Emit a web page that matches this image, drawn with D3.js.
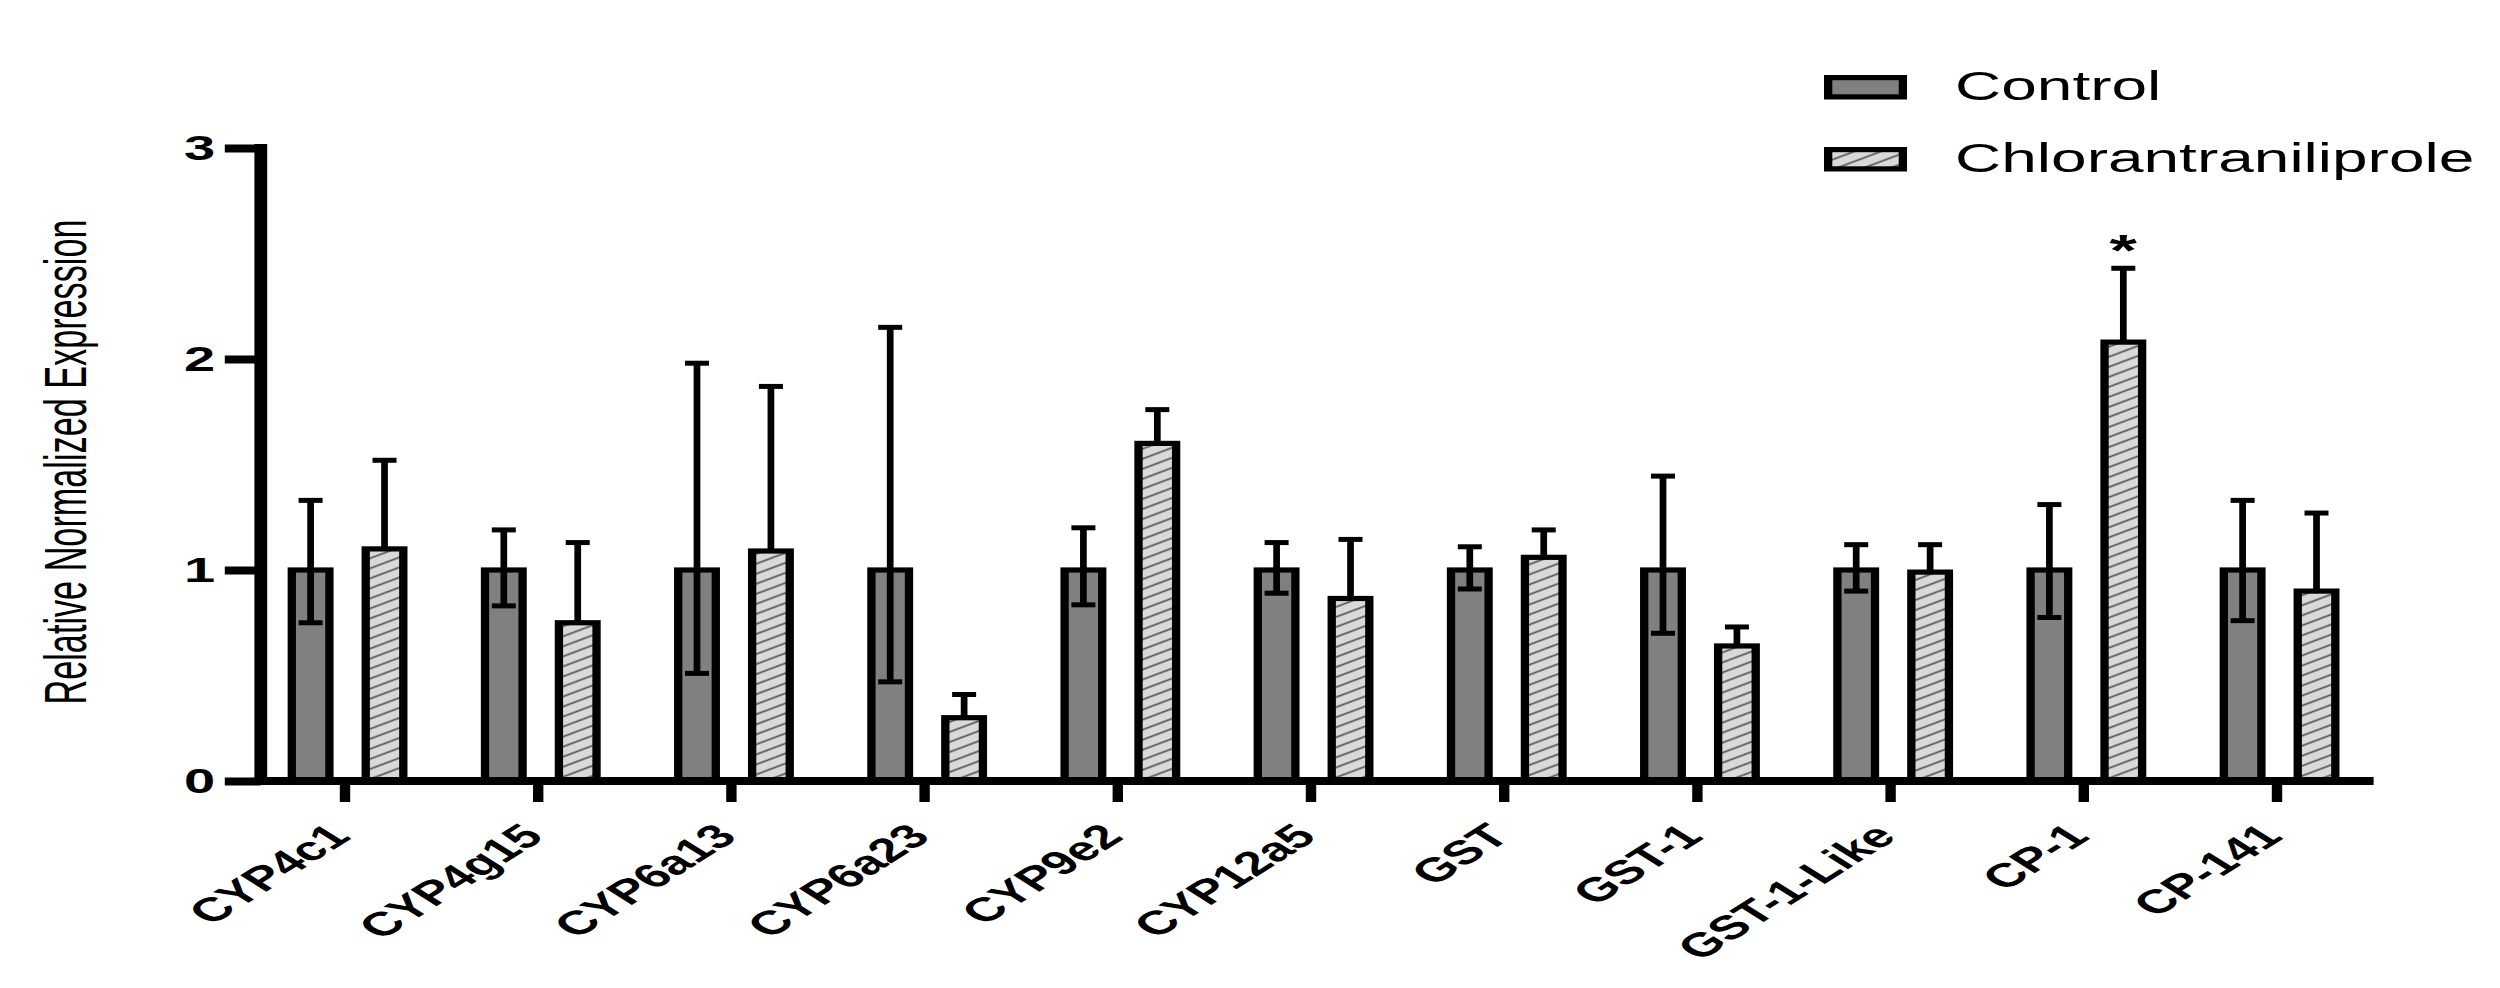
<!DOCTYPE html>
<html><head><meta charset="utf-8">
<script src="https://cdn.jsdelivr.net/npm/d3@7"></script>
<style>body{margin:0;background:#fff}svg{display:block}</style>
</head><body>
<svg id="c" width="2500" height="988"></svg>
<script>
const categories = ["CYP4c1","CYP4g15","CYP6a13","CYP6a23","CYP9e2","CYP12a5","GST","GST-1","GST-1-Like","CP-1","CP-141"];
const controlMean  = [1,1,1,1,1,1,1,1,1,1,1];
const controlUpper = [1.33,1.19,1.98,2.15,1.20,1.13,1.11,1.445,1.12,1.31,1.33];
const controlLower = [0.75,0.83,0.51,0.47,0.835,0.89,0.91,0.70,0.90,0.775,0.76];
const treatedMean  = [1.10,0.75,1.09,0.30,1.60,0.865,1.06,0.64,0.99,2.08,0.90];
const treatedUpper = [1.52,1.13,1.87,0.41,1.76,1.145,1.19,0.73,1.12,2.43,1.27];
const significance = ["","","","","","","","","","*",""];
const yTicks = [0,1,2,3];
const seriesNames = ["Control","Chlorantraniliprole"];
const yTitle = "Relative Normalized Expression";

const S = 1.6; // horizontal stretch of the original figure
const svg = d3.select("#c");
const defs = svg.append("defs");
const pat = defs.append("pattern").attr("id","hatch").attr("patternUnits","userSpaceOnUse")
  .attr("width",30).attr("height",8.6).attr("patternTransform","rotate(-31)");
pat.append("rect").attr("width",30).attr("height",8.6).attr("fill","#d9d9d9");
pat.append("line").attr("x1",0).attr("x2",30).attr("y1",4.3).attr("y2",4.3)
  .attr("stroke","#555").attr("stroke-width",1.4);

const g = svg.append("g").attr("transform",`scale(${S},1)`);
const x = d3.scaleBand().domain(categories).range([155.25,1483.5]);
const y = d3.scaleLinear().domain([0,3]).range([781,148]);
const yAxisX = 163;
const cx = c => x(c) + x.bandwidth()/2;
const offC = -21.5, offT = 24.7, barW = 23.5, capW = 15;
const font = "'Liberation Sans', Arial, sans-serif";

// bars
const data = categories.map((c,i)=>({c,cm:controlMean[i],ch:controlUpper[i],cl:controlLower[i],tm:treatedMean[i],th:treatedUpper[i],sig:significance[i]}));
const grp = g.append("g").selectAll("g").data(data).join("g");
grp.append("rect").attr("x",d=>cx(d.c)+offC-barW/2).attr("y",d=>y(d.cm))
  .attr("width",barW).attr("height",d=>y(0)-y(d.cm))
  .attr("fill","#808080").attr("stroke","#000").attr("stroke-width",5.2);
grp.append("rect").attr("x",d=>cx(d.c)+offT-barW/2).attr("y",d=>y(d.tm))
  .attr("width",barW).attr("height",d=>y(0)-y(d.tm))
  .attr("fill","url(#hatch)").attr("stroke","#000").attr("stroke-width",5.2);
// error bars
grp.append("line").attr("x1",d=>cx(d.c)+offC).attr("x2",d=>cx(d.c)+offC)
  .attr("y1",d=>y(d.cl)).attr("y2",d=>y(d.ch)).attr("stroke","#000").attr("stroke-width",4.2);
grp.append("line").attr("x1",d=>cx(d.c)+offC-capW/2).attr("x2",d=>cx(d.c)+offC+capW/2)
  .attr("y1",d=>y(d.ch)).attr("y2",d=>y(d.ch)).attr("stroke","#000").attr("stroke-width",5);
grp.append("line").attr("x1",d=>cx(d.c)+offC-capW/2).attr("x2",d=>cx(d.c)+offC+capW/2)
  .attr("y1",d=>y(d.cl)).attr("y2",d=>y(d.cl)).attr("stroke","#000").attr("stroke-width",5);
grp.append("line").attr("x1",d=>cx(d.c)+offT).attr("x2",d=>cx(d.c)+offT)
  .attr("y1",d=>y(d.tm)).attr("y2",d=>y(d.th)).attr("stroke","#000").attr("stroke-width",4.2);
grp.append("line").attr("x1",d=>cx(d.c)+offT-capW/2).attr("x2",d=>cx(d.c)+offT+capW/2)
  .attr("y1",d=>y(d.th)).attr("y2",d=>y(d.th)).attr("stroke","#000").attr("stroke-width",5);
grp.filter(d=>d.sig).append("text").attr("x",d=>cx(d.c)+offT).attr("y",d=>y(d.th)-2)
  .attr("text-anchor","middle").attr("font-family",font).attr("font-weight",700)
  .attr("font-size",44).text(d=>d.sig);

// y axis
const ya = g.append("g").attr("transform",`translate(${yAxisX},0)`)
  .call(d3.axisLeft(y).tickValues(yTicks).tickSize(22.5).tickSizeOuter(0).tickPadding(6).tickFormat(d3.format("d")));
ya.select(".domain").remove();
ya.selectAll(".tick line").attr("stroke","#000").attr("stroke-width",8);
ya.selectAll(".tick text").attr("font-family",font).attr("font-weight",700).attr("font-size",35).attr("fill","#000");
g.append("line").attr("x1",yAxisX).attr("x2",yAxisX).attr("y1",y(0)+4).attr("y2",y(3)-4)
  .attr("stroke","#000").attr("stroke-width",8);

// x axis
const xa = g.append("g").attr("transform",`translate(0,${y(0)})`)
  .call(d3.axisBottom(x).tickSize(21).tickSizeOuter(0));
xa.select(".domain").remove();
xa.selectAll(".tick line").attr("stroke","#000").attr("stroke-width",6.5);
xa.selectAll(".tick text").attr("font-family",font).attr("font-weight",700).attr("font-size",33.5)
  .attr("fill","#000").attr("text-anchor","end").attr("y",0).attr("dy",0)
  .attr("transform","translate(4.6,57) rotate(-45)");
g.append("line").attr("x1",yAxisX-4).attr("x2",x.range()[1]).attr("y1",y(0)).attr("y2",y(0))
  .attr("stroke","#000").attr("stroke-width",8);

// y title
g.append("text").attr("transform",`translate(40.6,462) rotate(-90)`).attr("text-anchor","middle")
  .attr("dy","0.36em").attr("font-family","'Liberation Sans Narrow','Liberation Sans',Arial,sans-serif")
  .attr("font-size",37).attr("textLength",485).attr("lengthAdjust","spacingAndGlyphs").text(yTitle);

// legend
const leg = g.append("g");
const legY = [77.6,149.6];
leg.selectAll("rect").data(seriesNames).join("rect")
  .attr("x",1142.6).attr("y",(d,i)=>legY[i]).attr("width",46.7).attr("height",19.3)
  .attr("fill",(d,i)=>i===0?"#808080":"url(#hatch)").attr("stroke","#000").attr("stroke-width",5.2);
leg.selectAll("text").data(seriesNames).join("text")
  .attr("x",1221.9).attr("y",(d,i)=>legY[i]+22.4).attr("font-family",font).attr("font-size",40)
  .attr("fill","#000").text(d=>d);
</script>
</body></html>
